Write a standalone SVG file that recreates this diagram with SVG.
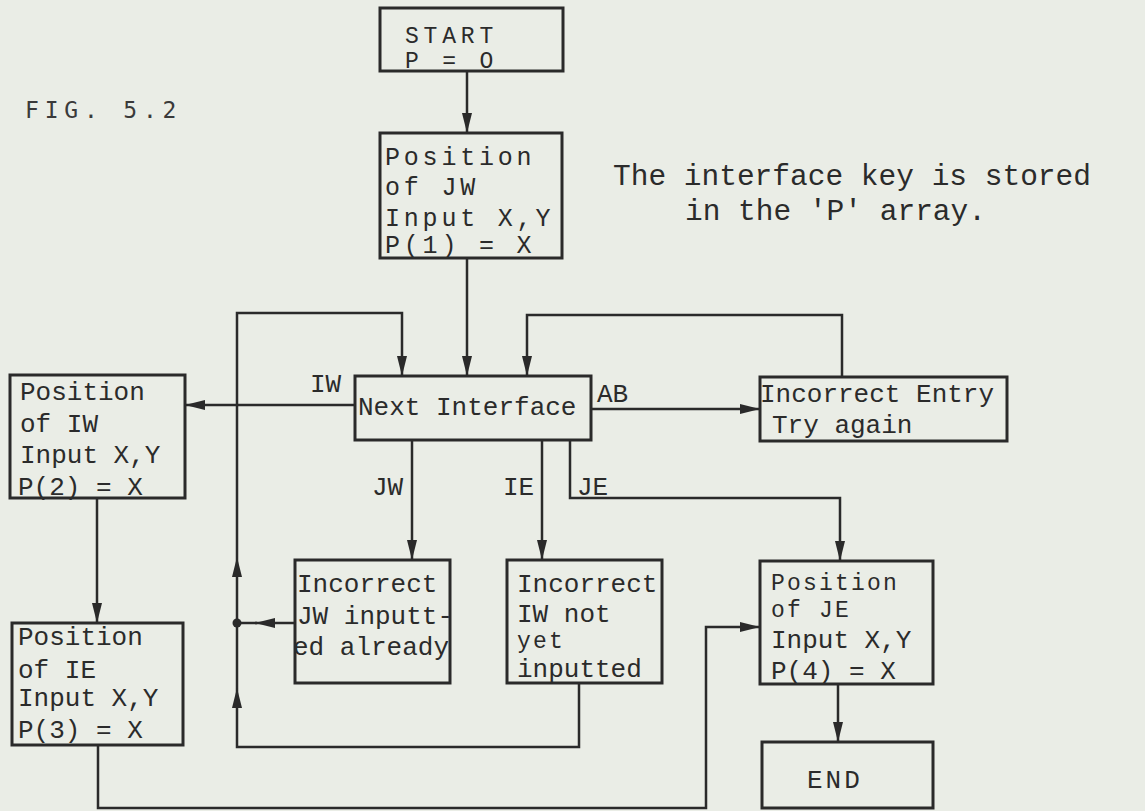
<svg xmlns="http://www.w3.org/2000/svg" width="1145" height="811" viewBox="0 0 1145 811">
<defs>
<style>
.bg{fill:#eaede6}
.box{fill:none;stroke:#2a2a2a;stroke-width:3}
.ln{fill:none;stroke:#2a2a2a;stroke-width:2.5}
.t{font-family:"Liberation Mono","Courier New",monospace;fill:#2b2b2b;font-size:26px}
.tb{font-family:"Liberation Mono","Courier New",monospace;fill:#2b2b2b;font-size:25px;letter-spacing:3.8px}
.ts{font-family:"Liberation Mono","Courier New",monospace;fill:#2b2b2b;font-size:23px;letter-spacing:2.2px}
.note{font-family:"Liberation Mono","Courier New",monospace;fill:#2b2b2b;font-size:29.5px}
.fig{font-family:"DejaVu Sans Mono",monospace;fill:#3a3a3a;font-size:23px;letter-spacing:5.8px}
</style>
<marker id="ah" viewBox="0 0 20 10" refX="20" refY="5" markerWidth="20" markerHeight="10" markerUnits="userSpaceOnUse" orient="auto">
<path d="M0,0 L20,5 L0,10 Z" fill="#2a2a2a"/>
</marker>
</defs>
<rect class="bg" x="0" y="0" width="1145" height="811"/>
<text class="fig" x="25" y="118">FIG. 5.2</text>
<g id="note">
<text class="note" x="613" y="185">The interface key is stored</text>
<text class="note" x="685" y="220">in the 'P' array.</text>
</g>
<g id="connectors">
<path class="ln" d="M467,71 V133" marker-end="url(#ah)"/>
<path class="ln" d="M467,258 V376" marker-end="url(#ah)"/>
<path class="ln" d="M579,683 V747 H237 V688" marker-end="url(#ah)"/>
<path class="ln" d="M237,688 V557" marker-end="url(#ah)"/>
<path class="ln" d="M237,557 V313 H402 V376" marker-end="url(#ah)"/>
<path class="ln" d="M295,623 H255" marker-end="url(#ah)"/>
<path class="ln" d="M257,623 H237"/>
<circle cx="237" cy="623" r="4.5" fill="#2a2a2a"/>
<path class="ln" d="M842,377 V315 H527 V376" marker-end="url(#ah)"/>
<path class="ln" d="M355,405 H185" marker-end="url(#ah)"/>
<path class="ln" d="M591,409 H760" marker-end="url(#ah)"/>
<path class="ln" d="M412,440 V560" marker-end="url(#ah)"/>
<path class="ln" d="M542,440 V560" marker-end="url(#ah)"/>
<path class="ln" d="M570,440 V498 H840 V561" marker-end="url(#ah)"/>
<path class="ln" d="M97,498 V623" marker-end="url(#ah)"/>
<path class="ln" d="M98,745 V808 H706 V627 H760" marker-end="url(#ah)"/>
<path class="ln" d="M838,684 V742" marker-end="url(#ah)"/>
<text class="t" x="310" y="392">IW</text>
<text class="t" x="597" y="402">AB</text>
<text class="t" x="372" y="495">JW</text>
<text class="t" x="503" y="495">IE</text>
<text class="t" x="577" y="495">JE</text>
</g>
<g id="start">
<rect class="box" x="380" y="8" width="183" height="63"/>
<text class="tb" x="405" y="43" style="font-size:23px;letter-spacing:4.8px">START</text>
<text class="tb" x="405" y="68" style="font-size:23px;letter-spacing:4.8px">P = O</text>
</g>
<g id="pos-jw">
<rect class="box" x="380" y="133" width="182" height="125"/>
<text class="tb" x="385" y="165">Position</text>
<text class="tb" x="385" y="195">of JW</text>
<text class="tb" x="385" y="226">Input X,Y</text>
<text class="tb" x="385" y="253">P(1) = X</text>
</g>
<g id="next">
<rect class="box" x="355" y="376" width="236" height="64"/>
<text class="t" x="358" y="415">Next Interface</text>
</g>
<g id="incorrect-entry">
<rect class="box" x="760" y="377" width="247" height="64"/>
<text class="t" x="760" y="402">Incorrect Entry</text>
<text class="t" x="772" y="433">Try again</text>
</g>
<g id="pos-iw">
<rect class="box" x="10" y="375" width="175" height="123"/>
<text class="t" x="20" y="400">Position</text>
<text class="t" x="20" y="432">of IW</text>
<text class="t" x="20" y="463">Input X,Y</text>
<text class="t" x="18" y="495">P(2) = X</text>
</g>
<g id="pos-ie">
<rect class="box" x="12" y="623" width="171" height="122"/>
<text class="t" x="18" y="645">Position</text>
<text class="t" x="18" y="678">of IE</text>
<text class="t" x="18" y="706">Input X,Y</text>
<text class="t" x="18" y="738">P(3) = X</text>
</g>
<g id="inc-jw">
<rect class="box" x="295" y="560" width="155" height="123"/>
<text class="t" x="297" y="592">Incorrect</text>
<text class="t" x="297" y="624">JW inputt-</text>
<text class="t" x="293" y="655">ed already</text>
</g>
<g id="inc-iw">
<rect class="box" x="507" y="560" width="155" height="123"/>
<text class="t" x="517" y="592">Incorrect</text>
<text class="t" x="517" y="622">IW not</text>
<text class="ts" x="517" y="648">yet</text>
<text class="t" x="517" y="677">inputted</text>
</g>
<g id="pos-je">
<rect class="box" x="760" y="561" width="173" height="123"/>
<text class="ts" x="771" y="590">Position</text>
<text class="ts" x="771" y="617">of JE</text>
<text class="t" x="771" y="648">Input X,Y</text>
<text class="t" x="771" y="679">P(4) = X</text>
</g>
<g id="end">
<rect class="box" x="762" y="742" width="171" height="66"/>
<text class="tb" x="807" y="788" style="letter-spacing:3px;font-size:26px">END</text>
</g>
</svg>
